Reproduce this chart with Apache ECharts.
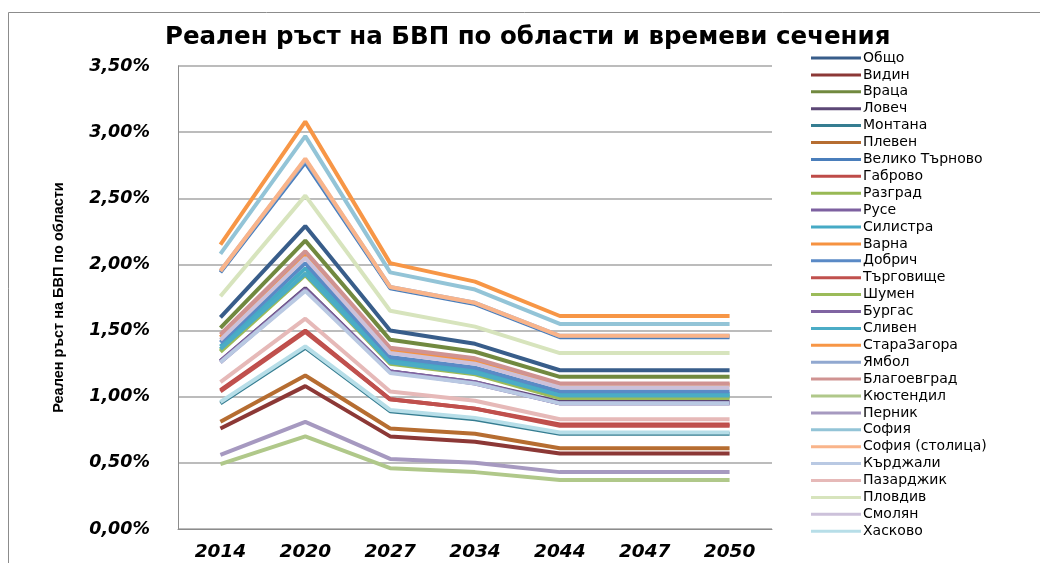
<!DOCTYPE html>
<html>
<head>
<meta charset="utf-8">
<script src="https://cdn.jsdelivr.net/npm/echarts@6/dist/echarts.min.js"></script>
<style>
  html, body { margin: 0; padding: 0; background: #fff; }
  #chart { width: 1040px; height: 563px; }
</style>
</head>
<body>
<div id="chart"></div>
<script>
const years = ['2014', '2020', '2027', '2034', '2044', '2047', '2050']

// values in percent
const obshto        = [1.60, 2.29, 1.50, 1.40, 1.20, 1.20, 1.20]
const vidin         = [0.76, 1.08, 0.70, 0.66, 0.57, 0.57, 0.57]
const vratsa        = [1.52, 2.18, 1.43, 1.34, 1.15, 1.15, 1.15]
const lovech        = [1.27, 1.82, 1.19, 1.11, 0.96, 0.96, 0.96]
const montana       = [0.95, 1.37, 0.89, 0.83, 0.72, 0.72, 0.72]
const pleven        = [0.81, 1.16, 0.76, 0.72, 0.61, 0.61, 0.61]
const velikoTarnovo = [1.94, 2.77, 1.82, 1.70, 1.45, 1.45, 1.45]
const gabrovo       = [1.05, 1.50, 0.98, 0.91, 0.79, 0.79, 0.79]
const razgrad       = [1.35, 1.93, 1.26, 1.18, 1.00, 1.00, 1.00]
const ruse          = [1.26, 1.81, 1.19, 1.10, 0.95, 0.95, 0.95]
const silistra      = [1.38, 1.97, 1.28, 1.20, 1.02, 1.02, 1.02]
const varna         = [1.45, 2.08, 1.35, 1.27, 1.09, 1.09, 1.09]
const dobrich       = [1.41, 2.01, 1.30, 1.22, 1.04, 1.04, 1.04]
const targovishte   = [1.04, 1.49, 0.98, 0.91, 0.78, 0.78, 0.78]
const shumen        = [1.34, 1.92, 1.25, 1.17, 0.99, 0.99, 0.99]
const burgas        = [1.27, 1.81, 1.19, 1.11, 0.95, 0.95, 0.95]
const sliven        = [1.36, 1.93, 1.26, 1.18, 1.01, 1.01, 1.01]
const staraZagora   = [2.15, 3.08, 2.01, 1.87, 1.61, 1.61, 1.61]
const yambol        = [1.95, 2.79, 1.83, 1.71, 1.46, 1.46, 1.46]
const blagoevgrad   = [1.47, 2.10, 1.37, 1.29, 1.10, 1.10, 1.10]
const kyustendil    = [0.49, 0.70, 0.46, 0.43, 0.37, 0.37, 0.37]
const pernik        = [0.56, 0.81, 0.53, 0.50, 0.43, 0.43, 0.43]
const sofia         = [2.08, 2.97, 1.94, 1.81, 1.55, 1.55, 1.55]
const sofiaCity     = [1.95, 2.80, 1.83, 1.71, 1.46, 1.46, 1.46]
const kardzhali     = [1.26, 1.80, 1.18, 1.10, 0.95, 0.95, 0.95]
const pazardzhik    = [1.11, 1.59, 1.04, 0.97, 0.83, 0.83, 0.83]
const plovdiv       = [1.76, 2.52, 1.65, 1.53, 1.33, 1.33, 1.33]
const smolyan       = [1.43, 2.05, 1.33, 1.25, 1.07, 1.07, 1.07]
const haskovo       = [0.96, 1.38, 0.90, 0.84, 0.73, 0.73, 0.73]

const seriesList = [
    ['Общо', obshto, '#385D8A'],
    ['Видин', vidin, '#8C3836'],
    ['Враца', vratsa, '#71893F'],
    ['Ловеч', lovech, '#5C4776'],
    ['Монтана', montana, '#357D91'],
    ['Плевен', pleven, '#B66D31'],
    ['Велико Търново', velikoTarnovo, '#4A7EBB'],
    ['Габрово', gabrovo, '#BE4B48'],
    ['Разград', razgrad, '#98B954'],
    ['Русе', ruse, '#7D60A0'],
    ['Силистра', silistra, '#46AAC5'],
    ['Варна', varna, '#F69240'],
    ['Добрич', dobrich, '#5A8AC6'],
    ['Търговище', targovishte, '#C0504D'],
    ['Шумен', shumen, '#9BBB59'],
    ['Бургас', burgas, '#8064A2'],
    ['Сливен', sliven, '#4BACC6'],
    ['СтараЗагора', staraZagora, '#F79646'],
    ['Ямбол', yambol, '#91A8D0'],
    ['Благоевград', blagoevgrad, '#D09392'],
    ['Кюстендил', kyustendil, '#B0C88A'],
    ['Перник', pernik, '#A699C0'],
    ['София', sofia, '#93C4D7'],
    ['София (столица)', sofiaCity, '#F9B48A'],
    ['Кърджали', kardzhali, '#B9C9E3'],
    ['Пазарджик', pazardzhik, '#E6B9B8'],
    ['Пловдив', plovdiv, '#D7E4BD'],
    ['Смолян', smolyan, '#CCC1DA'],
    ['Хасково', haskovo, '#B7DEE8']
]

const fmtPct = v => v.toFixed(2).replace('.', ',') + '%'

const option = {
    animation: false,
    backgroundColor: '#fff',
    graphic: [{
        type: 'rect',
        shape: { x: 8.5, y: 12.5, width: 1100, height: 600 },
        style: { fill: 'none', stroke: '#8c8c8c', lineWidth: 1 },
        silent: true
    }],
    title: {
        text: 'Реален ръст на БВП по области и времеви сечения',
        left: 160,
        top: 20,
        textStyle: { fontFamily: 'DejaVu Sans', fontWeight: 'bold', fontSize: 24.5, color: '#000' }
    },
    legend: {
        orient: 'vertical',
        left: 806,
        top: 46,
        icon: 'rect',
        itemWidth: 50,
        itemHeight: 3,
        itemGap: 2.9,
        textStyle: { fontFamily: 'DejaVu Sans', fontSize: 14, lineHeight: 14, color: '#000', padding: [0, 0, 0, -3] },
        data: seriesList.map(s => s[0])
    },
    grid: { left: 178, right: 268, top: 66, bottom: 34 },
    xAxis: {
        type: 'category',
        data: years,
        boundaryGap: true,
        axisLine: { lineStyle: { color: '#8c8c8c', width: 1 } },
        axisTick: { show: false },
        axisLabel: { fontFamily: 'DejaVu Sans', fontWeight: 'bold', fontStyle: 'italic', fontSize: 18.5, color: '#000', margin: 14 }
    },
    yAxis: {
        type: 'value',
        min: 0,
        max: 3.5,
        interval: 0.5,
        name: 'Реален ръст на БВП по области',
        nameLocation: 'middle',
        nameGap: 112,
        nameRotate: 90,
        nameTextStyle: { fontFamily: 'Liberation Sans Narrow, Liberation Sans', fontWeight: 'bold', fontSize: 14.5, color: '#000' },
        axisLine: { show: true, lineStyle: { color: '#8c8c8c', width: 1 } },
        axisTick: { show: false },
        splitLine: { lineStyle: { color: '#a6a6a6', width: 1.5 } },
        axisLabel: {
            fontFamily: 'DejaVu Sans', fontWeight: 'bold', fontStyle: 'italic', fontSize: 17.5, color: '#000', margin: 28,
            formatter: fmtPct
        }
    },
    series: seriesList.map(s => ({
        name: s[0],
        type: 'line',
        data: s[1],
        color: s[2],
        showSymbol: false,
        symbol: 'none',
        lineStyle: { width: 4, color: s[2] }
    }))
}

const myChart = echarts.init(document.getElementById('chart'))
myChart.setOption(option)
</script>
</body>
</html>
